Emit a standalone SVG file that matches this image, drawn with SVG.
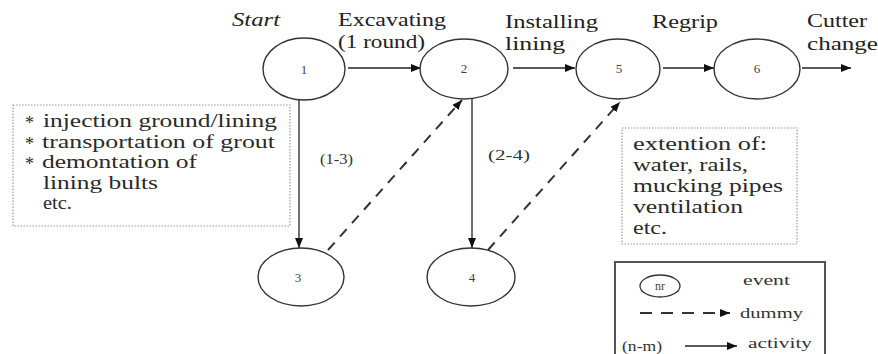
<svg xmlns="http://www.w3.org/2000/svg" width="878" height="354" viewBox="0 0 878 354" font-family="Liberation Serif, Times New Roman, serif">
<style>
.bg{fill:#fff}
.node ellipse{fill:#fff;stroke:#333;stroke-width:1.4}
.num{font-size:13px;fill:#444;text-anchor:middle}
.t{font-size:19px;fill:#222}
.s{font-size:18px;fill:#2a2a2a}
.k{font-size:14px;fill:#333}
.l{font-size:15px;fill:#333}
.act{stroke:#222;stroke-width:1.3;fill:none}
.dum{stroke:#333;stroke-width:2;fill:none;stroke-dasharray:10 8}
.note{fill:none;stroke:#999;stroke-width:1.2;stroke-dasharray:1.5 1.5}
</style>
<defs>
<marker id="ah" viewBox="0 0 10 8" refX="10" refY="4" markerWidth="10" markerHeight="8" markerUnits="userSpaceOnUse" orient="auto">
<path d="M0,0 L10,4 L0,8 Z" fill="#111"/>
</marker>
</defs>
<rect class="bg" x="0" y="0" width="878" height="354"/>

<g id="connectors">
<line class="act" x1="348" y1="68" x2="421" y2="68" marker-end="url(#ah)"/>
<line class="act" x1="513" y1="68" x2="575" y2="68" marker-end="url(#ah)"/>
<line class="act" x1="663" y1="68" x2="714" y2="68" marker-end="url(#ah)"/>
<line class="act" x1="802" y1="68" x2="851" y2="68" marker-end="url(#ah)"/>
<line class="act" x1="299" y1="100" x2="299" y2="248" marker-end="url(#ah)"/>
<line class="act" x1="472" y1="99" x2="472" y2="248" marker-end="url(#ah)"/>
<line class="dum" x1="328" y1="250" x2="462" y2="100" marker-end="url(#ah)"/>
<line class="dum" x1="488" y1="250" x2="620" y2="102" marker-end="url(#ah)"/>
<text class="k" x="320" y="164" textLength="33" lengthAdjust="spacingAndGlyphs">(1-3)</text>
<text class="k" x="488" y="160" textLength="42" lengthAdjust="spacingAndGlyphs">(2-4)</text>
</g>

<g id="node1" class="node">
<ellipse cx="304" cy="69" rx="41" ry="31"/>
<text class="num" x="304" y="74">1</text>
</g>
<g id="node2" class="node">
<ellipse cx="464" cy="69" rx="44" ry="30"/>
<text class="num" x="464" y="73">2</text>
</g>
<g id="node5" class="node">
<ellipse cx="618" cy="69" rx="42" ry="30"/>
<text class="num" x="619" y="73">5</text>
</g>
<g id="node6" class="node">
<ellipse cx="757" cy="69" rx="43" ry="30"/>
<text class="num" x="757" y="73">6</text>
</g>
<g id="node3" class="node">
<ellipse cx="301" cy="277" rx="43" ry="29"/>
<text class="num" x="298" y="282">3</text>
</g>
<g id="node4" class="node">
<ellipse cx="471" cy="277" rx="44" ry="29"/>
<text class="num" x="472" y="282">4</text>
</g>

<g id="labels">
<text class="t" x="232" y="26" textLength="48" lengthAdjust="spacingAndGlyphs" font-style="italic">Start</text>
<text class="t" x="338" y="26" textLength="108" lengthAdjust="spacingAndGlyphs">Excavating</text>
<text class="t" x="338" y="48" textLength="87" lengthAdjust="spacingAndGlyphs">(1 round)</text>
<text class="t" x="505" y="28" textLength="93" lengthAdjust="spacingAndGlyphs">Installing</text>
<text class="t" x="505" y="50" textLength="60" lengthAdjust="spacingAndGlyphs">lining</text>
<text class="t" x="652" y="28" textLength="66" lengthAdjust="spacingAndGlyphs">Regrip</text>
<text class="t" x="807" y="27" textLength="60" lengthAdjust="spacingAndGlyphs">Cutter</text>
<text class="t" x="807" y="50" textLength="71" lengthAdjust="spacingAndGlyphs">change</text>
</g>

<g id="note-left">
<rect class="note" x="13" y="105" width="277" height="121"/>
<text class="s" x="25" y="129">*</text>
<text class="s" x="43" y="127" textLength="234" lengthAdjust="spacingAndGlyphs">injection ground/lining</text>
<text class="s" x="25" y="150">*</text>
<text class="s" x="42" y="148" textLength="233" lengthAdjust="spacingAndGlyphs">transportation of grout</text>
<text class="s" x="25" y="170">*</text>
<text class="s" x="42" y="168" textLength="155" lengthAdjust="spacingAndGlyphs">demontation of</text>
<text class="s" x="43" y="189" textLength="115" lengthAdjust="spacingAndGlyphs">lining bults</text>
<text class="s" x="43" y="209" textLength="29" lengthAdjust="spacingAndGlyphs">etc.</text>
</g>

<g id="note-right">
<rect class="note" x="622" y="128" width="175" height="116"/>
<text class="s" x="633" y="150" textLength="134" lengthAdjust="spacingAndGlyphs">extention of:</text>
<text class="s" x="633" y="171" textLength="115" lengthAdjust="spacingAndGlyphs">water, rails,</text>
<text class="s" x="633" y="192" textLength="150" lengthAdjust="spacingAndGlyphs">mucking pipes</text>
<text class="s" x="633" y="213" textLength="110" lengthAdjust="spacingAndGlyphs">ventilation</text>
<text class="s" x="633" y="234" textLength="34" lengthAdjust="spacingAndGlyphs">etc.</text>
</g>

<g id="legend">
<rect x="615" y="262" width="210" height="100" fill="none" stroke="#555" stroke-width="2"/>
<ellipse cx="660" cy="286" rx="20" ry="11" fill="none" stroke="#333" stroke-width="1.3"/>
<text class="num" x="660" y="290" style="font-size:12px">nr</text>
<text class="l" x="743" y="285" textLength="47" lengthAdjust="spacingAndGlyphs">event</text>
<line class="dum" x1="640" y1="313" x2="730" y2="313" style="stroke-dasharray:12 9" marker-end="url(#ah)"/>
<text class="l" x="740" y="318" textLength="63" lengthAdjust="spacingAndGlyphs">dummy</text>
<text class="l" x="622" y="351" textLength="40" lengthAdjust="spacingAndGlyphs">(n-m)</text>
<line class="act" x1="685" y1="346" x2="737" y2="346" marker-end="url(#ah)"/>
<text class="l" x="748" y="348" textLength="64" lengthAdjust="spacingAndGlyphs">activity</text>
</g>
</svg>
